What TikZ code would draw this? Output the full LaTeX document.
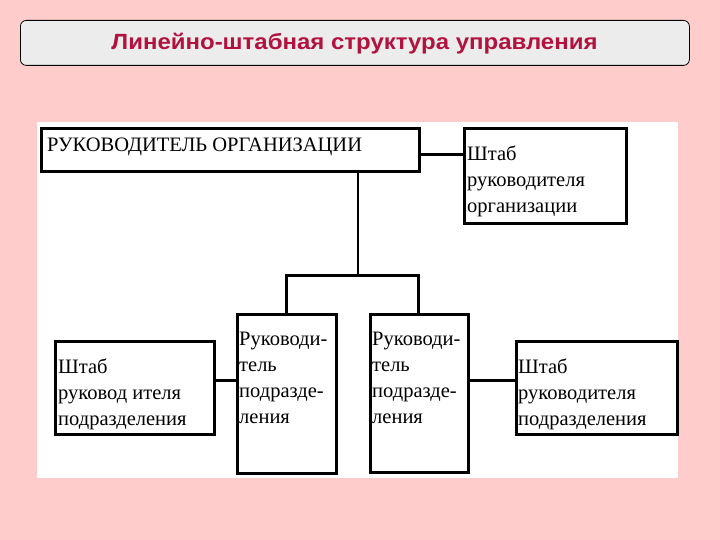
\documentclass[tikz,border=0pt]{standalone}
\usepackage{fontspec}
\setmainfont{Liberation Serif}
\newfontfamily\titlefont{Liberation Sans}
\definecolor{bgpink}{HTML}{FFCCCC}
\definecolor{titlegray}{HTML}{ECECEC}
\definecolor{titlered}{HTML}{B3123F}
\tikzset{
  box/.style={draw=black, line width=2.8pt, fill=white, inner sep=0pt, anchor=north west},
  lbl/.style={anchor=north west, align=left, inner sep=0pt, font=\fontsize{20.5}{26}\selectfont},
  conn/.style={draw=black, line width=3pt}
}
\begin{document}
\begin{tikzpicture}[x=1pt,y=-1pt]
\useasboundingbox (0,0) rectangle (720,540);
\fill[bgpink] (0,0) rectangle (720,540);
% title
\node[draw=black, line width=0.8pt, fill=titlegray, rounded corners=6pt, minimum width=669pt, minimum height=45pt, anchor=north west, inner sep=0pt] (titlebox) at (20,20) {};
\node[text=titlered, anchor=base, inner sep=0pt, xscale=1.09, font=\titlefont\bfseries\fontsize{22}{24}\selectfont] (title) at (354.5,50) {Линейно-штабная структура управления};
% white panel
\fill[white] (37,122) rectangle (678,478);
% boxes
\node[box, minimum width=378pt, minimum height=43pt] (top) at (40,127) {};
\node[box, minimum width=162pt, minimum height=95pt] (stop) at (463,127) {};
\node[box, minimum width=99pt, minimum height=159pt] (subl) at (236,313) {};
\node[box, minimum width=98pt, minimum height=158pt] (subr) at (369,313) {};
\node[box, minimum width=159pt, minimum height=93pt] (sl) at (54,340) {};
\node[box, minimum width=161pt, minimum height=93pt] (sr) at (515,340) {};
% texts
\node[lbl] (ttop) at ([xshift=7pt,yshift=-11pt]top.north west) {РУКОВОДИТЕЛЬ ОРГАНИЗАЦИИ};
\node[lbl] (tstop) at ([xshift=4pt,yshift=-19pt]stop.north west) {Штаб\\руководителя\\организации};
\node[lbl] (tsubl) at ([xshift=3pt,yshift=-19pt]subl.north west) {Руководи-\\тель\\подразде-\\ления};
\node[lbl] (tsubr) at ([xshift=3pt,yshift=-19pt]subr.north west) {Руководи-\\тель\\подразде-\\ления};
\node[lbl] (tsl) at ([xshift=4pt,yshift=-19pt]sl.north west) {Штаб\\руковод ителя\\подразделения};
\node[lbl] (tsr) at ([xshift=3pt,yshift=-19pt]sr.north west) {Штаб\\руководителя\\подразделения};
% connectors
\coordinate (j) at (358,275);
\draw[conn] (top.east |- 0,155) -- (stop.west |- 0,155);
\draw[conn, line width=2pt] (top.south -| j) -- (j);
\draw[conn] (subl.north -| 286,0) |- (j) -| (subr.north -| 418,0);
\draw[conn] (sl.east |- 0,380) -- (subl.west |- 0,380);
\draw[conn] (subr.east |- 0,380) -- (sr.west |- 0,380);
\end{tikzpicture}
\end{document}
